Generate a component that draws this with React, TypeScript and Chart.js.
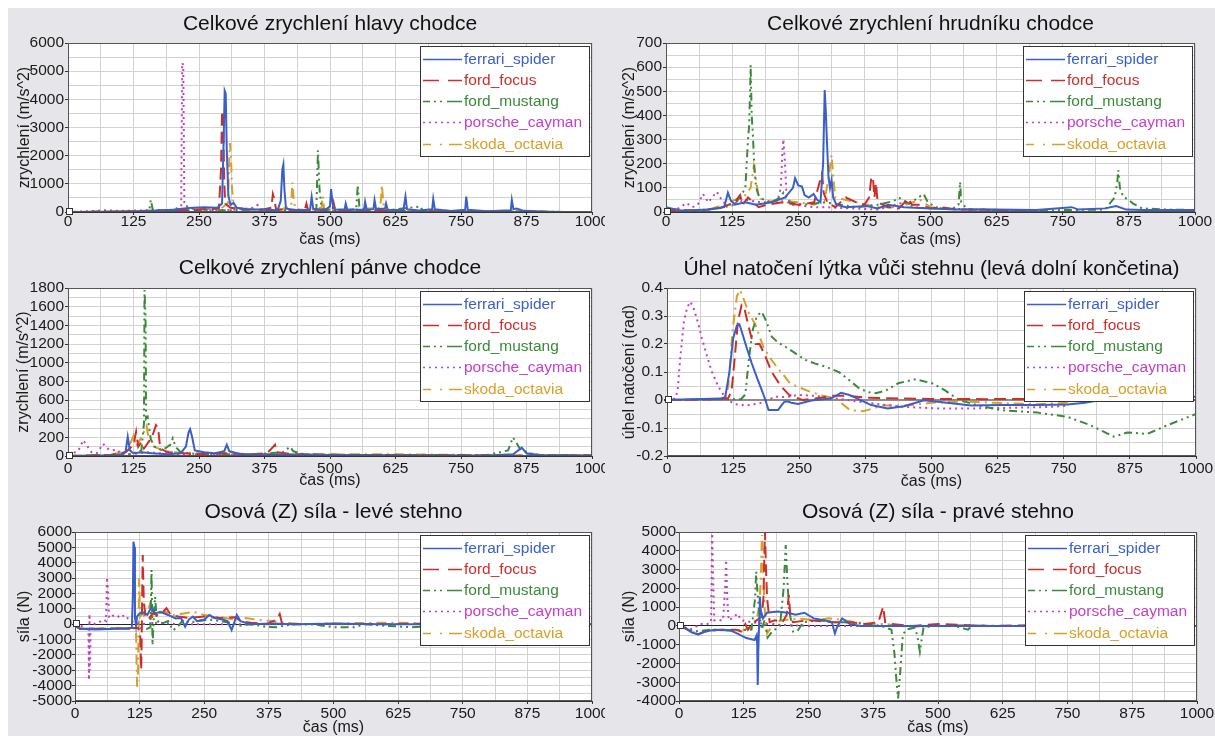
import React, { useEffect, useRef } from 'react';
import Chart from 'chart.js/auto';

// ---------- data ----------
const seriesNames = ['ferrari_spider', 'ford_focus', 'ford_mustang', 'porsche_cayman', 'skoda_octavia'];
const xTicks = [0, 125, 250, 375, 500, 625, 750, 875, 1000];

const headTicks = [0, 1000, 2000, 3000, 4000, 5000, 6000];
const chestTicks = [0, 100, 200, 300, 400, 500, 600, 700];
const pelvisTicks = [0, 200, 400, 600, 800, 1000, 1200, 1400, 1600, 1800];
const angleTicks = [-0.2, -0.1, 0, 0.1, 0.2, 0.3, 0.4];
const forceLTicks = [-5000, -4000, -3000, -2000, -1000, 0, 1000, 2000, 3000, 4000, 5000, 6000];
const forceRTicks = [-4000, -3000, -2000, -1000, 0, 1000, 2000, 3000, 4000, 5000];

// head acceleration [t ms, m/s^2]
const headFerrari = [[0,0],[60,5],[120,20],[160,40],[200,80],[230,140],[260,170],[285,150],[294,300],[297,2500],[299,4300],[301,4200],[303,2200],[306,600],[310,250],[316,320],[322,150],[340,100],[370,90],[400,60],[406,400],[409,1500],[411,1680],[413,800],[416,120],[440,60],[462,80],[465,530],[468,120],[490,60],[500,200],[502,810],[505,300],[510,80],[528,100],[530,300],[533,80],[565,80],[567,360],[570,80],[583,100],[585,420],[588,100],[605,120],[607,300],[610,80],[640,60],[644,550],[647,100],[670,50],[695,100],[697,460],[700,100],[730,40],[758,80],[760,550],[763,80],[800,30],[845,60],[847,430],[850,100],[856,120],[870,40],[920,10],[950,0]];
const headFocus = [[0,0],[80,10],[150,40],[200,60],[240,80],[270,100],[288,120],[292,1500],[294,3600],[296,3400],[298,1200],[300,300],[310,150],[340,100],[370,80],[388,150],[391,640],[394,450],[397,100],[420,60],[452,80],[455,300],[458,80],[505,80],[507,320],[510,60],[560,50],[600,60],[650,40],[700,30],[760,20],[820,10],[900,0]];
const headMustang = [[0,0],[100,10],[155,30],[158,430],[162,60],[200,50],[250,70],[300,60],[350,80],[400,60],[450,70],[474,100],[477,2190],[480,800],[483,300],[487,100],[520,60],[550,100],[553,960],[556,200],[570,60],[620,80],[673,200],[676,60],[720,40],[800,30],[880,20],[950,0]];
const headPorsche = [[0,0],[50,40],[70,60],[100,40],[150,60],[200,80],[216,200],[218,5300],[220,5200],[222,250],[240,100],[280,60],[320,80],[355,150],[362,250],[368,100],[400,60],[450,50],[500,40],[600,30],[700,20],[800,10],[900,0]];
const headSkoda = [[0,0],[100,15],[150,40],[200,70],[250,120],[290,100],[305,300],[309,2450],[311,2000],[313,800],[316,300],[322,150],[350,80],[400,60],[426,200],[428,1050],[431,400],[434,100],[460,60],[484,150],[486,560],[489,100],[530,60],[596,150],[599,960],[602,300],[605,80],[650,40],[720,30],[800,20],[900,0]];

// chest acceleration
const chestFerrari = [[0,20],[10,15],[30,5],[80,10],[110,20],[117,80],[122,50],[130,30],[150,40],[170,30],[200,40],[225,60],[240,100],[244,140],[250,110],[257,105],[262,70],[270,60],[279,75],[286,50],[292,40],[297,200],[300,505],[302,420],[304,306],[307,150],[310,100],[313,133],[316,60],[322,30],[340,20],[380,25],[400,15],[420,30],[450,20],[500,15],[550,10],[620,10],[700,8],[767,20],[780,10],[830,15],[851,25],[870,10],[900,8],[1000,8]];
const chestFocus = [[0,0],[20,10],[60,5],[100,15],[130,40],[140,70],[145,30],[155,60],[165,40],[175,20],[190,30],[220,40],[250,30],[280,40],[295,160],[298,80],[305,40],[320,20],[340,60],[360,40],[375,30],[384,60],[388,140],[391,146],[394,60],[397,120],[400,40],[420,20],[440,15],[458,55],[465,30],[480,30],[500,15],[520,20],[550,10],[600,10],[650,5],[700,0]];
const chestMustang = [[0,0],[50,5],[100,15],[130,30],[145,80],[150,100],[155,300],[157,353],[159,500],[160,609],[162,400],[164,330],[167,188],[170,105],[175,70],[185,50],[200,40],[215,60],[222,80],[230,40],[260,30],[300,40],[330,30],[360,20],[400,30],[430,45],[440,60],[460,35],[487,75],[495,40],[510,20],[540,10],[553,30],[556,125],[558,40],[570,10],[650,5],[750,8],[830,10],[848,60],[853,120],[855,174],[858,100],[865,60],[872,55],[883,35],[900,15],[950,10],[1000,8]];
const chestPorsche = [[0,0],[20,10],[39,37],[50,20],[60,30],[70,75],[80,40],[96,84],[108,40],[120,30],[150,50],[180,40],[210,40],[217,100],[220,250],[222,301],[225,200],[228,60],[240,30],[280,20],[300,20],[350,15],[400,10],[450,40],[470,20],[500,15],[600,10],[700,5]];
const chestSkoda = [[0,10],[40,5],[80,10],[110,30],[130,50],[150,70],[160,100],[164,160],[166,190],[169,150],[175,60],[190,40],[210,50],[250,40],[280,30],[300,50],[308,150],[313,236],[316,150],[320,60],[340,50],[360,40],[380,30],[400,20],[440,20],[480,50],[500,20],[550,10],[600,10],[700,5]];

// pelvis acceleration
const pelvisFerrari = [[0,0],[60,5],[100,10],[110,50],[114,205],[118,60],[125,30],[140,40],[160,30],[190,20],[215,30],[225,100],[230,250],[233,286],[237,200],[242,60],[260,40],[280,30],[298,50],[303,120],[308,50],[330,20],[400,15],[500,10],[600,8],[700,5],[800,5],[850,20],[866,90],[875,30],[900,10],[1000,5]];
const pelvisFocus = [[0,0],[80,10],[110,40],[125,120],[130,260],[134,100],[140,150],[145,80],[150,120],[160,200],[168,330],[172,300],[176,80],[190,40],[220,30],[250,20],[300,30],[350,20],[380,30],[392,100],[395,120],[398,40],[430,20],[500,15],[600,10],[700,8],[800,5],[1000,5]];
const pelvisMustang = [[0,0],[80,10],[120,20],[140,60],[145,350],[146,1778],[148,1500],[149,400],[152,420],[155,300],[158,180],[165,100],[180,60],[195,120],[200,190],[205,100],[215,40],[250,20],[300,20],[350,15],[410,40],[424,100],[430,50],[450,20],[500,10],[600,10],[700,10],[800,10],[840,60],[849,200],[855,150],[862,80],[880,30],[900,10],[1000,5]];
const pelvisPorsche = [[0,20],[10,30],[20,60],[29,170],[35,120],[45,40],[55,30],[67,130],[75,80],[85,60],[93,70],[100,30],[120,20],[150,40],[200,20],[300,15],[400,10],[500,8],[600,8],[700,5]];
const pelvisSkoda = [[0,0],[80,10],[110,50],[120,150],[125,220],[130,100],[140,200],[145,260],[150,320],[155,150],[165,100],[180,60],[200,40],[250,30],[300,25],[350,20],[400,20],[500,15],[600,20],[700,15],[800,10],[1000,5]];

// knee angle [rad]
const angleFerrari = [[0,0],[100,0.005],[110,0.01],[118,0.1],[125,0.22],[132,0.265],[137,0.27],[142,0.24],[150,0.19],[160,0.132],[170,0.08],[179,0.036],[186,0],[192,-0.036],[210,-0.036],[216,-0.02],[222,-0.006],[228,-0.005],[235,-0.01],[248,-0.014],[260,-0.008],[273,-0.002],[290,0.002],[310,0.005],[329,0.026],[345,0.018],[360,0.005],[386,-0.018],[417,-0.03],[448,-0.022],[486,-0.001],[512,-0.006],[575,-0.02],[631,-0.018],[700,-0.018],[757,-0.016],[790,-0.01],[820,0],[900,0.005],[1000,0.012]];
const angleFocus = [[0,0],[100,0.003],[115,0.005],[122,0.03],[128,0.15],[134,0.28],[141,0.339],[146,0.33],[152,0.28],[160,0.22],[167,0.2],[175,0.2],[185,0.16],[198,0.1],[215,0.05],[231,0.018],[256,0],[280,0.005],[315,0.015],[340,0.015],[380,0.008],[420,0.006],[500,0.004],[600,0.003],[700,0.004],[800,0.002],[1000,0]];
const angleMustang = [[0,0],[140,0.003],[148,0.02],[155,0.15],[162,0.25],[170,0.3],[179,0.315],[188,0.28],[198,0.226],[210,0.205],[224,0.19],[240,0.17],[262,0.143],[280,0.13],[300,0.119],[325,0.1],[345,0.07],[363,0.042],[380,0.028],[395,0.024],[415,0.035],[437,0.06],[469,0.074],[501,0.06],[525,0.035],[552,0],[590,-0.02],[631,-0.036],[700,-0.045],[757,-0.06],[800,-0.09],[845,-0.131],[870,-0.116],[908,-0.121],[946,-0.09],[1000,-0.05]];
const anglePorsche = [[0,0],[15,0.005],[20,0.03],[25,0.15],[32,0.28],[38,0.33],[44,0.351],[50,0.33],[58,0.28],[66,0.22],[72,0.18],[85,0.1],[97,0.048],[108,0.015],[116,-0.002],[130,-0.015],[148,-0.02],[165,-0.015],[179,-0.01],[205,0.012],[224,0.01],[248,0.018],[280,0.015],[320,0.005],[360,-0.005],[400,-0.015],[450,-0.025],[512,-0.03],[580,-0.03],[650,-0.028],[720,-0.025],[760,-0.02]];
const angleSkoda = [[0,0],[100,0.003],[110,0.01],[116,0.05],[124,0.25],[132,0.37],[138,0.393],[145,0.36],[155,0.31],[167,0.27],[182,0.19],[195,0.15],[207,0.119],[220,0.09],[232,0.06],[250,0.045],[270,0.03],[295,0.015],[320,0.005],[335,-0.02],[346,-0.036],[371,-0.04],[390,-0.03],[406,-0.02],[450,-0.02],[500,-0.01],[560,-0.005],[620,-0.01],[700,-0.015],[760,-0.01]];

// left thigh axial force [N]
const forceLFerrari = [[0,-100],[10,-300],[40,-350],[80,-300],[105,-300],[110,-200],[112,2000],[113,5370],[115,5000],[116,400],[118,-100],[120,500],[125,700],[130,800],[140,600],[148,1140],[155,700],[165,800],[180,600],[195,370],[205,400],[213,-160],[220,300],[228,500],[236,200],[250,300],[260,600],[270,400],[285,300],[295,200],[303,-380],[313,600],[320,200],[340,0],[380,50],[420,0],[500,20],[600,0],[700,0],[800,0],[1000,0]];
const forceLFocus = [[0,-100],[10,-300],[50,-300],[100,-250],[122,-250],[126,-500],[128,-2980],[129,-1000],[130,2000],[131,4500],[133,1500],[136,600],[142,300],[150,700],[160,600],[170,800],[177,1050],[185,600],[200,500],[220,400],[250,500],[280,400],[310,450],[320,200],[340,100],[370,0],[390,300],[396,660],[400,100],[420,0],[500,30],[600,0],[700,50],[800,0],[1000,0]];
const forceLMustang = [[0,-100],[10,-300],[60,-300],[120,-250],[140,-300],[146,-200],[148,3530],[150,-1360],[152,200],[155,1790],[158,300],[165,0],[180,200],[190,-400],[200,-100],[210,300],[220,100],[240,200],[260,300],[280,200],[300,100],[320,-100],[340,0],[360,-100],[370,-180],[390,-200],[420,0],[460,0],[500,-200],[540,-200],[560,0],[600,-100],[650,-200],[700,-100],[800,0],[1000,0]];
const forceLPorsche = [[0,0],[10,-100],[20,-200],[26,-400],[27,-3630],[28,660],[29,-3000],[30,-500],[35,0],[45,100],[55,300],[60,200],[62,3050],[64,2000],[66,400],[72,530],[80,600],[88,400],[95,600],[105,300],[115,100],[130,0],[160,100],[200,0],[300,0],[400,0],[500,0],[600,0]];
const forceLSkoda = [[0,-100],[10,-300],[60,-300],[110,-250],[118,-300],[120,-4070],[122,-3000],[124,2990],[126,500],[130,700],[137,400],[145,1300],[150,600],[160,700],[175,800],[190,600],[210,700],[230,800],[250,600],[270,500],[290,400],[310,300],[330,400],[350,300],[380,200],[400,100],[450,0],[500,50],[600,100],[700,50],[800,0],[1000,0]];

// right thigh axial force [N]
const forceRFerrari = [[0,0],[10,-100],[25,-350],[37,-450],[50,-300],[70,-200],[100,-250],[112,-400],[130,-650],[146,-750],[150,-500],[151,-1000],[152,-3150],[153,-1500],[155,500],[156,1560],[158,800],[162,400],[170,700],[190,760],[210,700],[225,600],[242,700],[260,400],[280,300],[295,200],[301,-400],[306,0],[315,400],[330,100],[350,0],[400,0],[500,0],[600,0],[700,0],[800,0],[1000,0]];
const forceRFocus = [[0,0],[10,-100],[25,-300],[37,-450],[50,-300],[80,-200],[110,-200],[120,-300],[128,100],[133,-200],[140,100],[150,300],[160,500],[163,1500],[165,4000],[166,5000],[168,3000],[170,1500],[175,200],[185,300],[200,200],[208,600],[212,1640],[215,500],[220,200],[250,300],[300,200],[330,200],[360,100],[385,200],[394,1020],[398,200],[410,100],[450,0],[500,100],[550,50],[600,0],[700,50],[800,0],[1000,0]];
const forceRMustang = [[0,0],[10,-100],[30,-300],[60,-200],[100,-250],[140,-200],[147,1500],[149,2890],[151,2000],[155,600],[160,-200],[165,300],[171,-620],[180,-300],[195,0],[202,2000],[206,4310],[209,2500],[213,800],[220,-300],[228,-300],[240,200],[270,300],[300,200],[330,200],[360,100],[390,0],[410,-200],[416,-1500],[420,-3000],[423,-3860],[427,-2500],[432,-500],[438,-200],[455,-100],[460,-500],[465,-1370],[468,-800],[472,-100],[490,0],[530,0],[558,-200],[565,0],[600,0],[700,0],[800,0],[1000,0]];
const forceRPorsche = [[0,0],[10,-50],[20,-200],[30,-100],[40,100],[55,100],[62,200],[64,4930],[66,2500],[68,300],[75,300],[85,300],[89,2000],[91,3510],[93,1500],[96,300],[105,450],[113,650],[120,300],[140,200],[170,100],[200,50],[250,0],[300,0],[400,0],[500,0],[600,0]];
const forceRSkoda = [[0,0],[10,-100],[25,-300],[37,-450],[50,-300],[80,-200],[120,-250],[140,-100],[150,400],[155,1000],[158,2500],[160,4840],[162,3500],[165,1000],[170,-400],[175,-200],[185,200],[200,300],[230,400],[260,300],[290,400],[320,300],[340,200],[370,100],[400,100],[420,0],[450,-50],[500,0],[550,50],[600,0],[700,0],[800,0],[1000,0]];

// ---------- styles ----------
const FONT = "Arial, 'Liberation Sans', sans-serif";
const COLORS = ['#3a5fc8', '#cc2f2a', '#3a8a3a', '#c23fc8', '#d6a02a'];
const DATA_DASH = [[], [12, 6], [8, 4, 2, 4, 2, 4], [2, 4], [10, 5, 2, 5]];
const LEGEND_DASH = [[], [16, 9], [7, 4, 2, 4, 2, 5, 20, 0], [2, 4], [8, 9, 2, 7, 20, 0]];

const isIn = (v: number, arr: number[]) => arr.some((a) => Math.abs(a - v) < 1e-7);

const decorPlugin = {
  id: 'decor',
  beforeDraw(chart: any) {
    const { ctx, chartArea: a } = chart;
    ctx.save();
    ctx.fillStyle = '#ffffff';
    ctx.fillRect(a.left, a.top, a.right - a.left, a.bottom - a.top);
    ctx.restore();
  },
  afterDraw(chart: any, _args: any, opts: any) {
    const { ctx, chartArea: a } = chart;
    ctx.save();
    // frame
    ctx.strokeStyle = '#555';
    ctx.lineWidth = 1;
    ctx.strokeRect(Math.round(a.left) + 0.5, Math.round(a.top) + 0.5, Math.round(a.right - a.left) - 1, Math.round(a.bottom - a.top) - 1);
    // origin marker
    const y0 = chart.scales.y.getPixelForValue(0);
    ctx.fillStyle = '#fff';
    ctx.fillRect(Math.round(a.left) - 1.5, Math.round(y0) - 3.5, 6, 6);
    ctx.strokeStyle = '#333';
    ctx.strokeRect(Math.round(a.left) - 1.5, Math.round(y0) - 3.5, 6, 6);
    // legend
    const w = 169, h = 110;
    const lx = Math.round(a.right) - 3 - w, ly = Math.round(a.top) + 3;
    ctx.fillStyle = '#fff';
    ctx.fillRect(lx, ly, w, h);
    ctx.strokeStyle = '#333';
    ctx.lineWidth = 1;
    ctx.strokeRect(lx + 0.5, ly + 0.5, w, h);
    ctx.font = `15.5px ${FONT}`;
    ctx.textBaseline = 'middle';
    ctx.textAlign = 'left';
    seriesNames.forEach((name, i) => {
      const cy = Math.round(ly + 12.5 + i * 21.3) + 0.5;
      ctx.strokeStyle = COLORS[i];
      ctx.lineWidth = 1.6;
      ctx.setLineDash(LEGEND_DASH[i]);
      ctx.beginPath();
      ctx.moveTo(lx + 3, cy);
      ctx.lineTo(lx + 42, cy);
      ctx.stroke();
      ctx.setLineDash([]);
      ctx.fillStyle = COLORS[i];
      ctx.fillText(name, lx + 44, cy + 0.5);
    });
    // title
    ctx.fillStyle = '#111';
    ctx.font = `21px ${FONT}`;
    ctx.textAlign = 'center';
    ctx.textBaseline = 'middle';
    ctx.fillText(opts.title, (a.left + a.right) / 2, opts.titleY);
    ctx.restore();
  },
};

type Panel = {
  left: number; top: number; w: number; h: number;
  ca: { l: number; t: number; r: number; b: number };
  title: string; titleY: number;
  yTitle: string; yTitlePad: number;
  yMin: number; yMax: number; yStep: number; yLabels: number[];
  xTickPad: number; yTickPad: number;
  zero: 'none' | 'gray' | 'black';
  series: number[][][];
};

const panels: Panel[] = [
  {
    left: 0, top: 0, w: 597, h: 240, ca: { l: 60, t: 35, r: 584, b: 204 },
    title: 'Celkové zrychlení hlavy chodce', titleY: 16,
    yTitle: 'zrychlení (m/s^2)', yTitlePad: 8.5,
    yMin: 0, yMax: 6000, yStep: 500, yLabels: headTicks, xTickPad: -3, yTickPad: 1, zero: 'none',
    series: [headFerrari, headFocus, headMustang, headPorsche, headSkoda],
  },
  {
    left: 597, top: 0, w: 610, h: 240, ca: { l: 61, t: 35, r: 590, b: 204 },
    title: 'Celkové zrychlení hrudníku chodce', titleY: 16,
    yTitle: 'zrychlení (m/s^2)', yTitlePad: 16.5,
    yMin: 0, yMax: 700, yStep: 50, yLabels: chestTicks, xTickPad: -3, yTickPad: 1, zero: 'none',
    series: [chestFerrari, chestFocus, chestMustang, chestPorsche, chestSkoda],
  },
  {
    left: 0, top: 242, w: 597, h: 239, ca: { l: 60, t: 38, r: 584, b: 206 },
    title: 'Celkové zrychlení pánve chodce', titleY: 18,
    yTitle: 'zrychlení (m/s^2)', yTitlePad: 8,
    yMin: 0, yMax: 1800, yStep: 100, yLabels: pelvisTicks, xTickPad: 0, yTickPad: 1, zero: 'none',
    series: [pelvisFerrari, pelvisFocus, pelvisMustang, pelvisPorsche, pelvisSkoda],
  },
  {
    left: 597, top: 242, w: 610, h: 240, ca: { l: 62, t: 38, r: 591, b: 206 },
    title: 'Úhel natočení lýtka vůči stehnu (levá dolní končetina)', titleY: 19,
    yTitle: 'úhel natočení (rad)', yTitlePad: 17,
    yMin: -0.2, yMax: 0.4, yStep: 0.05, yLabels: angleTicks, xTickPad: 0, yTickPad: 1, zero: 'gray',
    series: [angleFerrari, angleFocus, angleMustang, anglePorsche, angleSkoda],
  },
  {
    left: 0, top: 482, w: 597, h: 246, ca: { l: 67, t: 42, r: 584, b: 211 },
    title: 'Osová (Z) síla - levé stehno', titleY: 22.5,
    yTitle: 'síla (N)', yTitlePad: 9,
    yMin: -5000, yMax: 6000, yStep: 500, yLabels: forceLTicks, xTickPad: 0, yTickPad: 0, zero: 'black',
    series: [forceLFerrari, forceLFocus, forceLMustang, forceLPorsche, forceLSkoda],
  },
  {
    left: 597, top: 482, w: 610, h: 246, ca: { l: 74, t: 42, r: 592, b: 211 },
    title: 'Osová (Z) síla - pravé stehno', titleY: 22.5,
    yTitle: 'síla (N)', yTitlePad: 17,
    yMin: -4000, yMax: 5000, yStep: 500, yLabels: forceRTicks, xTickPad: 0, yTickPad: 0, zero: 'black',
    series: [forceRFerrari, forceRFocus, forceRMustang, forceRPorsche, forceRSkoda],
  },
];

function buildChart(canvas: HTMLCanvasElement, p: Panel) {
  const fmtY = (v: number) => {
    const r = Math.round(v * 1000) / 1000;
    return Math.abs(r) < 1e-9 ? '0' : String(r);
  };
  return new Chart(canvas, {
    type: 'line',
    data: {
      datasets: p.series.map((s, i) => ({
        label: seriesNames[i],
        data: s.map(([x, y]) => ({ x, y })),
        borderColor: COLORS[i],
        backgroundColor: COLORS[i],
        borderWidth: 2,
        borderDash: DATA_DASH[i],
        pointRadius: 0,
        fill: false,
        tension: 0,
      })),
    },
    options: {
      animation: false,
      responsive: false,
      devicePixelRatio: 1,
      events: [],
      layout: { padding: { left: 0, top: p.ca.t, right: p.w - p.ca.r, bottom: 0 } },
      plugins: {
        legend: { display: false },
        tooltip: { enabled: false },
        decor: { title: p.title, titleY: p.titleY },
      } as any,
      scales: {
        x: {
          type: 'linear',
          min: 0,
          max: 1000,
          border: { display: true, color: '#333', width: 1 },
          grid: {
            color: '#d2d2d2',
            lineWidth: 1,
            tickLength: 3,
            tickColor: (c: any) => (c.tick && isIn(c.tick.value, xTicks) ? '#333' : 'rgba(0,0,0,0)'),
          },
          ticks: {
            stepSize: 62.5,
            autoSkip: false,
            maxRotation: 0,
            minRotation: 0,
            padding: p.xTickPad,
            color: '#1a1a1a',
            font: { family: FONT, size: 15.5 },
            callback: (v: any) => (isIn(Number(v), xTicks) ? String(Math.round(Number(v))) : ''),
          },
          title: {
            display: true,
            text: 'čas (ms)',
            color: '#1a1a1a',
            font: { family: FONT, size: 16, lineHeight: 1 },
            padding: { top: 0, bottom: 0 },
          },
          afterFit: (s: any) => {
            s.height = p.h - p.ca.b;
            s.paddingLeft = 0;
            s.paddingRight = 0;
          },
        },
        y: {
          type: 'linear',
          min: p.yMin,
          max: p.yMax,
          border: { display: true, color: '#333', width: 1 },
          grid: {
            color: (c: any) => {
              const v = c.tick ? c.tick.value : 1;
              if (Math.abs(v) < 1e-9 && p.zero === 'gray') return '#8c8c8c';
              if (Math.abs(v) < 1e-9 && p.zero === 'black') return '#222';
              return '#d2d2d2';
            },
            lineWidth: (c: any) => {
              const v = c.tick ? c.tick.value : 1;
              if (Math.abs(v) < 1e-9 && p.zero === 'gray') return 2;
              return 1;
            },
            tickLength: 3,
            tickColor: (c: any) => (c.tick && isIn(c.tick.value, p.yLabels) ? '#333' : 'rgba(0,0,0,0)'),
          },
          ticks: {
            stepSize: p.yStep,
            autoSkip: false,
            padding: p.yTickPad,
            color: '#1a1a1a',
            font: { family: FONT, size: 15.5 },
            callback: (v: any) => (isIn(Number(v), p.yLabels) ? fmtY(Number(v)) : ''),
          },
          title: {
            display: true,
            text: p.yTitle,
            color: '#1a1a1a',
            font: { family: FONT, size: 16, lineHeight: 1 },
            padding: { top: p.yTitlePad, bottom: 0 },
          },
          afterFit: (s: any) => {
            s.width = p.ca.l;
            s.paddingTop = 0;
            s.paddingBottom = 0;
          },
        },
      },
    } as any,
    plugins: [decorPlugin as any],
  });
}

export default function App() {
  const refs = useRef<(HTMLCanvasElement | null)[]>([]);
  useEffect(() => {
    Chart.defaults.font.family = FONT;
    const charts = panels.map((p, i) => buildChart(refs.current[i] as HTMLCanvasElement, p));
    return () => charts.forEach((c) => c.destroy());
  }, []);
  return (
    <div style={{ position: 'fixed', left: 8, top: 8, width: 1207, height: 728, background: '#e6e6ea', overflow: 'hidden' }}>
      {panels.map((p, i) => (
        <canvas
          key={i}
          ref={(el) => { refs.current[i] = el; }}
          width={p.w}
          height={p.h}
          style={{ position: 'absolute', left: p.left, top: p.top, width: p.w, height: p.h }}
        />
      ))}
    </div>
  );
}
